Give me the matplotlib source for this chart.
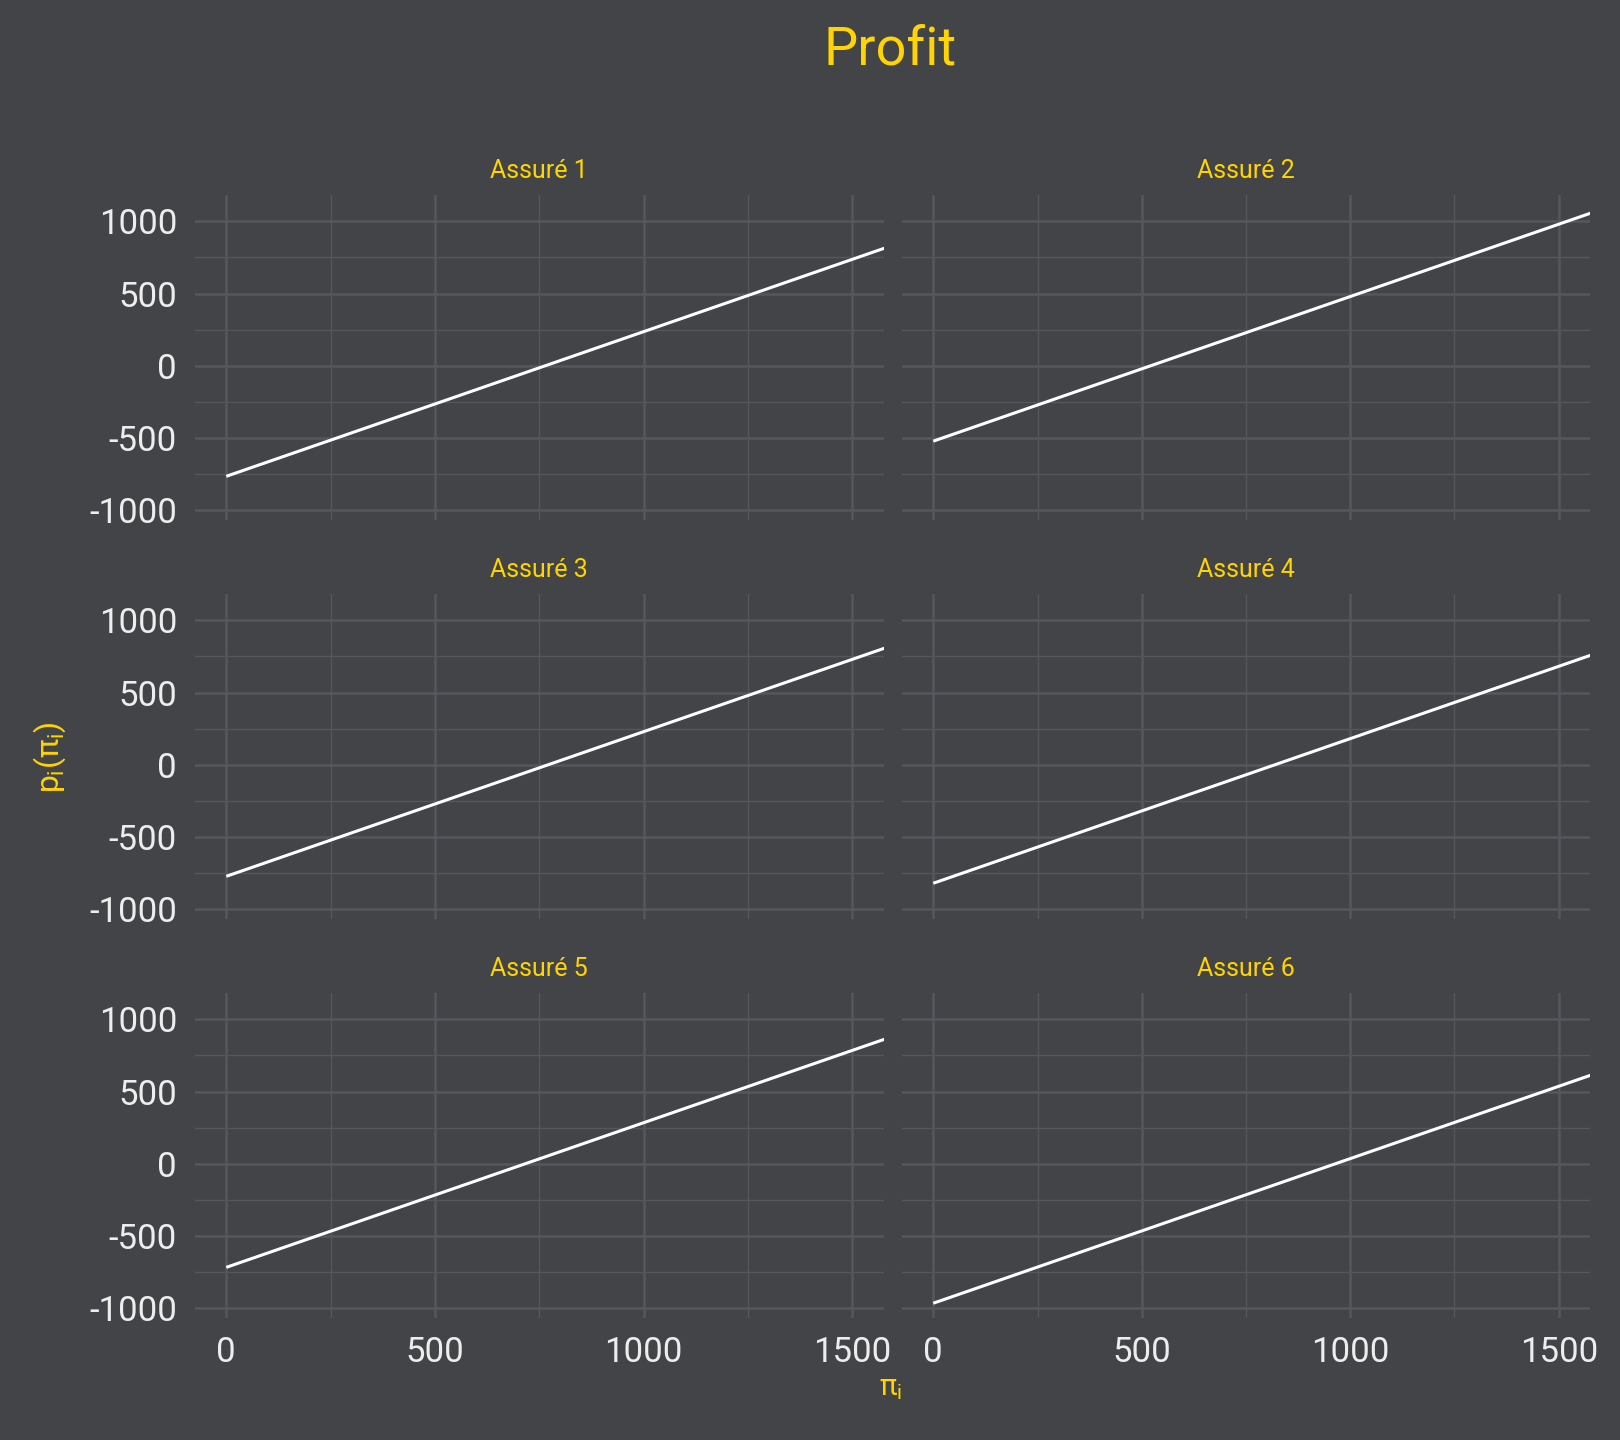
import numpy as np
import matplotlib as mpl
import matplotlib.pyplot as plt
from matplotlib.ticker import MultipleLocator

mpl.rcParams.update({"font.family": ["Roboto", "DejaVu Sans"],
                     "axes.unicode_minus": False,
                     "mathtext.fontset": "custom",
                     "mathtext.rm": "Roboto", "mathtext.it": "Roboto",
                     "mathtext.sf": "Roboto"})

BG = "#434448"
GRID = "#56575c"
GOLD = "#FFD400"
TXT = "#EDEDED"

# data: premium pi_i from 0 to 1600, profit at both ends
panels = ["Assuré 1", "Assuré 2", "Assuré 3", "Assuré 4", "Assuré 5", "Assuré 6"]
premium = [0, 1600]
profit_start = [-764, -521, -771, -819, -716, -964]
profit_end = [836, 1079, 829, 781, 884, 636]

W, H = 1620, 1440
fig = plt.figure(figsize=(W / 100, H / 100), dpi=100, facecolor=BG)

cols = [(195, 883.5), (902, 1590)]
rows = [(195, 520), (594, 919), (993, 1318)]

ymin = min(profit_start + profit_end)
ymax = max(profit_start + profit_end)
pad = 0.05 * (ymax - ymin)

for k, name in enumerate(panels):
    r, c = divmod(k, 2)
    x0, x1 = cols[c]
    y0, y1 = rows[r]
    ax = fig.add_axes([x0 / W, 1 - y1 / H, (x1 - x0) / W, (y1 - y0) / H])
    ax.set_facecolor(BG)
    ax.plot(premium, [profit_start[k], profit_end[k]], color="white", lw=2.2,
            solid_capstyle="butt", zorder=3)
    ax.set_xlim(-75, 1575)
    ax.set_ylim(ymin - pad, ymax + pad)
    ax.xaxis.set_major_locator(MultipleLocator(500))
    ax.xaxis.set_minor_locator(MultipleLocator(250))
    ax.yaxis.set_major_locator(MultipleLocator(500))
    ax.yaxis.set_minor_locator(MultipleLocator(250))
    ax.grid(which="major", color=GRID, lw=1.8)
    ax.grid(which="minor", color=GRID, lw=1.0)
    ax.set_axisbelow(True)
    for s in ax.spines.values():
        s.set_visible(False)
    ax.tick_params(which="both", length=0, colors=TXT, labelsize=25, pad=13)
    if c == 1:
        ax.tick_params(labelleft=False)
    if r < 2:
        ax.tick_params(labelbottom=False)
    ax.text(0.5, 1 + 17 / (y1 - y0), name, transform=ax.transAxes, ha="center",
            va="baseline", color=GOLD, fontsize=18)

fig.text(890 / W, 1 - 50 / H, "Profit", ha="center", va="center", color=GOLD, fontsize=39)
fig.text(890 / W, 1 - 1388 / H, r"$π_i$", ha="center", va="center", color=GOLD, fontsize=21)
fig.text(50 / W, 1 - 757 / H, r"$p_i(π_i)$", ha="center", va="center", color=GOLD,
         fontsize=23, rotation=90)

fig.savefig("out.png", dpi=100, facecolor=BG)
